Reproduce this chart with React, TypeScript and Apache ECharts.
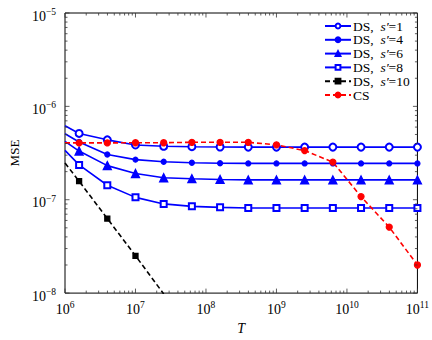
import React, { useEffect, useRef } from "react";
import * as echarts from "echarts";

// Sample sizes T (x axis, log scale)
const T = [1e6, 1.585e6, 3.981e6, 1e7, 2.512e7, 6.31e7, 1.585e8, 3.981e8, 1e9, 2.512e9, 6.31e9, 1.585e10, 3.981e10, 1e11];

// MSE values per series (index 0 at T=1e6 has no marker)
const ds1 = [6.19e-7, 5.13e-7, 4.38e-7, 3.86e-7, 3.74e-7, 3.7e-7, 3.67e-7, 3.66e-7, 3.66e-7, 3.66e-7, 3.66e-7, 3.66e-7, 3.66e-7, 3.66e-7];
const ds4 = [5.09e-7, 4.15e-7, 3.05e-7, 2.69e-7, 2.55e-7, 2.49e-7, 2.46e-7, 2.45e-7, 2.45e-7, 2.45e-7, 2.45e-7, 2.45e-7, 2.45e-7, 2.45e-7];
const ds6 = [4.21e-7, 3.32e-7, 2.32e-7, 1.91e-7, 1.72e-7, 1.68e-7, 1.65e-7, 1.63e-7, 1.63e-7, 1.63e-7, 1.63e-7, 1.63e-7, 1.63e-7, 1.63e-7];
const ds8 = [3.38e-7, 2.36e-7, 1.43e-7, 1.06e-7, 9.02e-8, 8.49e-8, 8.29e-8, 8.15e-8, 8.15e-8, 8.15e-8, 8.15e-8, 8.15e-8, 8.15e-8, 8.15e-8];
const ds10 = [2.47e-7, 1.58e-7, 6.29e-8, 2.51e-8, 9.8e-9];
const cs = [4.06e-7, 4.06e-7, 4.06e-7, 4.08e-7, 4.08e-7, 4.12e-7, 4.12e-7, 4.12e-7, 3.87e-7, 3.36e-7, 2.53e-7, 1.08e-7, 5.09e-8, 2.0e-8];

const seriesNames = ["DS, s′=1", "DS, s′=4", "DS, s′=6", "DS, s′=8", "DS, s′=10", "CS"];

// Axis ranges and tick values
const X_MIN = 1e6, X_MAX = 1e11;
const Y_MIN = 1e-8, Y_MAX = 1e-5;
const xDecades = [1e6, 1e7, 1e8, 1e9, 1e10, 1e11];
const yDecades = [1e-8, 1e-7, 1e-6, 1e-5];
const minorMult = [2, 3, 4, 5, 6, 7, 8, 9];

const FONT = "Liberation Serif, Times New Roman, serif";

function pairs(vals: number[]) {
  return vals.map((v, i) => (i === 0 ? { value: [T[i], v], symbol: "none" } : { value: [T[i], v] }));
}

function tickData() {
  const out: number[][] = [];
  xDecades.forEach((d, k) => {
    out.push([d, Y_MIN, 1]);
    if (k < xDecades.length - 1) minorMult.forEach((m) => out.push([d * m, Y_MIN, 0]));
  });
  yDecades.forEach((d, k) => {
    out.push([X_MIN, d, 3]);
    if (k < yDecades.length - 1) minorMult.forEach((m) => out.push([X_MIN, d * m, 2]));
  });
  return out;
}

export default function App() {
  const ref = useRef<HTMLDivElement>(null);
  useEffect(() => {
    const chart = echarts.init(ref.current!, null, { renderer: "svg" });
    const blue = "#0000ff";
    const lineBase = (name: string, data: any, color: string, symbol: string, size: number, dashed: boolean) => ({
      name,
      type: "line",
      data,
      symbol,
      symbolSize: size,
      showAllSymbol: true,
      clip: true,
      lineStyle: { color, width: 1.6, type: dashed ? [5, 3] : "solid" },
      itemStyle: { color, borderColor: color, borderWidth: 1.3 },
      z: 3,
    });
    const tickStyle = { stroke: "#333", lineWidth: 0.8 };
    chart.setOption({
      animation: false,
      backgroundColor: "#ffffff",
      textStyle: { fontFamily: FONT },
      grid: {
        left: 46,
        right: 14,
        top: 13,
        bottom: 34,
        show: true,
        borderColor: "#000",
        borderWidth: 1,
        backgroundColor: "transparent",
      },
      legend: {
        orient: "vertical",
        left: 319,
        top: 14,
        itemWidth: 26,
        itemHeight: 6,
        itemGap: -0.2,
        data: seriesNames,
        formatter: (name: string) => {
          if (name === "CS") return "{n|CS}";
          const num = name.split("=")[1];
          return `{n|DS,  }{i|s′}{n|=${num}}`;
        },
        textStyle: {
          fontFamily: FONT,
          fontSize: 13,
          lineHeight: 12,
          padding: [0, 0, 0, -3],
          rich: {
            n: { fontFamily: FONT, fontSize: 13.5, color: "#000", lineHeight: 12 },
            i: { fontFamily: FONT, fontSize: 13.5, fontStyle: "italic", color: "#000", lineHeight: 12 },
          },
        },
      },
      xAxis: {
        type: "log",
        min: X_MIN,
        max: X_MAX,
        logBase: 10,
        name: "T",
        nameLocation: "middle",
        nameGap: 13,
        nameTextStyle: { fontFamily: FONT, fontSize: 14, fontStyle: "italic", color: "#000" },
        axisLine: { show: false },
        axisTick: { show: false },
        splitLine: { show: false },
        minorTick: { show: false },
        axisLabel: {
          margin: 3,
          formatter: (v: number) => `{b|10}{s|${Math.round(Math.log10(v))}}`,
          rich: {
            b: { fontFamily: FONT, fontSize: 14, color: "#000", padding: [6, 0, 0, 0] },
            s: { fontFamily: FONT, fontSize: 9.5, color: "#000", padding: [0, 0, 2, 0] },
          },
        },
      },
      yAxis: {
        type: "log",
        min: Y_MIN,
        max: Y_MAX,
        logBase: 10,
        name: "MSE",
        nameLocation: "middle",
        nameGap: 26,
        nameRotate: 90,
        nameTextStyle: { fontFamily: FONT, fontSize: 13, color: "#000" },
        axisLine: { show: false },
        axisTick: { show: false },
        splitLine: { show: false },
        minorTick: { show: false },
        axisLabel: {
          margin: 9,
          formatter: (v: number) => `{b|10}{s|−${Math.round(-Math.log10(v))}}`,
          rich: {
            b: { fontFamily: FONT, fontSize: 14, color: "#000", padding: [6, 0, 0, 0] },
            s: { fontFamily: FONT, fontSize: 9.5, color: "#000", padding: [0, 0, 2, 0] },
          },
        },
      },
      series: [
        lineBase(seriesNames[0], pairs(ds1), blue, "emptyCircle", 7, false),
        lineBase(seriesNames[1], pairs(ds4), blue, "circle", 5, false),
        lineBase(seriesNames[2], pairs(ds6), blue, "triangle", 8, false),
        lineBase(seriesNames[3], pairs(ds8), blue, "emptyRect", 6, false),
        lineBase(seriesNames[4], pairs(ds10), "#000", "rect", 5, true),
        lineBase(seriesNames[5], pairs(cs), "#ff0000", "circle", 6, true),
        {
          type: "custom",
          silent: true,
          z: 5,
          data: tickData(),
          renderItem: (_p: any, api: any) => {
            const kind = api.value(2);
            const len = kind % 2 === 1 ? 4.5 : 2.5;
            if (kind < 2) {
              const x = api.value(0);
              const b = api.coord([x, Y_MIN]);
              const t = api.coord([x, Y_MAX]);
              return {
                type: "group",
                children: [
                  { type: "line", shape: { x1: b[0], y1: b[1], x2: b[0], y2: b[1] - len }, style: tickStyle },
                  { type: "line", shape: { x1: t[0], y1: t[1], x2: t[0], y2: t[1] + len }, style: tickStyle },
                ],
              };
            }
            const y = api.value(1);
            const l = api.coord([X_MIN, y]);
            const r = api.coord([X_MAX, y]);
            return {
              type: "group",
              children: [
                { type: "line", shape: { x1: l[0], y1: l[1], x2: l[0] + len, y2: l[1] }, style: tickStyle },
                { type: "line", shape: { x1: r[0], y1: r[1], x2: r[0] - len, y2: r[1] }, style: tickStyle },
              ],
            };
          },
        },
      ],
    });
    return () => chart.dispose();
  }, []);
  return <div ref={ref} style={{ position: "absolute", left: 0, top: 0, width: 432, height: 340 }} />;
}
